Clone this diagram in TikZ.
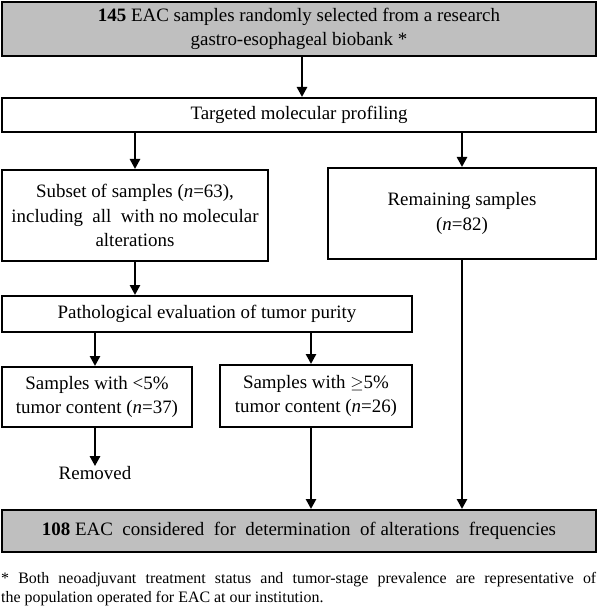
\documentclass[tikz,border=0pt]{standalone}
\usepackage{fontspec}
\setmainfont{Liberation Serif}
\usepackage{tikz}
\usetikzlibrary{arrows.meta,calc}
\definecolor{boxgray}{RGB}{191,191,191}
\tikzset{
  box/.style={draw, line width=2bp, align=center, inner sep=0pt},
  graybox/.style={box, fill=boxgray},
  arr/.style={line width=2.6bp, -{Triangle[width=10bp,length=10bp]}}
}

\begin{document}
\begin{tikzpicture}[x=1bp,y=-1bp,font=\fontsize{19}{24.5}\selectfont]
\useasboundingbox (0,0) rectangle (597,610);
% boxes
\node[graybox, minimum width=594bp, minimum height=54bp] (top) at (299,29)
  {\textbf{145} EAC samples randomly selected from a research\\ gastro-esophageal biobank *};
\node[box, minimum width=594bp, minimum height=34bp] (profiling) at (299,115)
  {Targeted molecular profiling};
\node[box, minimum width=266bp, minimum height=91bp] (subset) at (135,215.5)
  {Subset of samples (\textit{n}=63),\\ including\ \ all\ \ with no molecular\\ alterations};
\node[box, minimum width=268bp, minimum height=91bp] (remaining) at (462,213.5)
  {Remaining samples\\ (\textit{n}=82)};
\node[box, minimum width=410bp, minimum height=36bp] (purity) at (207,314)
  {Pathological evaluation of tumor purity};
\node[box, minimum width=190bp, minimum height=60bp] (low) at (97,397)
  {Samples with {<}5\%\\ tumor content (\textit{n}=37)};
\node[box, minimum width=192bp, minimum height=62bp] (high) at (316,396)
  {Samples with $\geq$5\%\\ tumor content (\textit{n}=26)};
\node[inner sep=0pt] (removed) at (95,473) {Removed};
\node[graybox, minimum width=594bp, minimum height=42bp] (final) at (299,531)
  {\textbf{108} EAC\ \ considered\ \ for\ \ determination\ \ of alterations\ \ frequencies};
\node[anchor=north west, inner sep=0pt, text width=595bp, align=justify,
  font=\fontsize{16}{19}\selectfont] (note) at (1,572)
  {* Both neoadjuvant treatment status and tumor-stage prevalence are representative of\linebreak the population operated for EAC at our institution.};
\coordinate (tx) at (302,0);
\coordinate (hx) at (311,0);

% arrows
\draw[arr] (top.south -| tx) -- (tx |- profiling.north);
\draw[arr] (profiling.south -| subset) -- (subset.north);
\draw[arr] (profiling.south -| remaining) -- (remaining.north);
\draw[arr] (subset.south) -- (subset.south |- purity.north);
\draw[arr] (purity.south -| removed) -- (removed |- low.north);
\draw[arr] (purity.south -| hx) -- (hx |- high.north);
\draw[arr] (low.south -| removed) -- (removed.north);
\draw[arr] (high.south -| hx) -- (hx |- final.north);
\draw[arr] (remaining.south) -- (remaining.south |- final.north);
\end{tikzpicture}
\end{document}
